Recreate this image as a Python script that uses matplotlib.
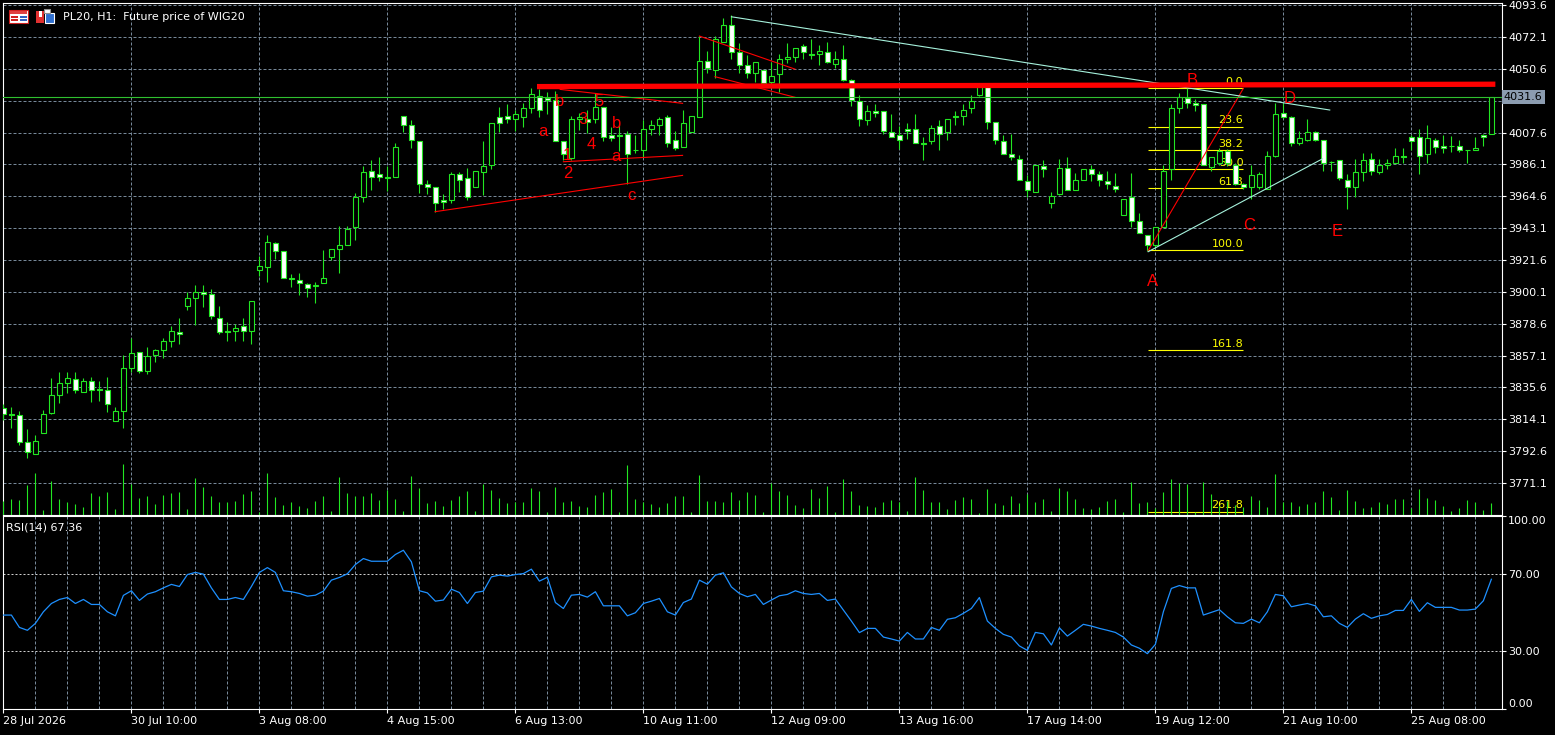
import matplotlib
matplotlib.use('Agg')
import matplotlib.pyplot as plt
import matplotlib.transforms as mtransforms
from matplotlib.patches import Rectangle

# H1 candles, PL20 (index = bar number)
opens = [3821.5, 3817.5, 3816.8, 3798.6, 3790.9, 3804.7, 3818.1, 3830.3, 3838.4, 3841.5,
         3832.3, 3839.7, 3834.3, 3834.1, 3812.7, 3819.5, 3848.5, 3859.3, 3846.5, 3857.3,
         3860.7, 3866.7, 3873.2, 3890.3, 3895.7, 3899.8, 3898.4, 3882.2, 3873.5, 3873.5,
         3876.8, 3873.5, 3914.6, 3916.6, 3932.8, 3927.4, 3909.2, 3907.9, 3905.6, 3904.0,
         3905.9, 3923.4, 3928.8, 3931.5, 3943.6, 3963.9, 3981.4, 3979.4, 3977.4, 3977.4,
         4018.5, 4012.5, 4001.7, 3972.7, 3970.6, 3961.9, 3961.9, 3979.4, 3976.7, 3970.6,
         3980.7, 3985.5, 4017.9, 4018.5, 4016.5, 4018.3, 4024.3, 4032.2, 4030.7, 4029.3,
         4001.7, 3990.2, 4016.5, 4016.5, 4016.5, 4024.6, 4005.7, 4005.7, 4006.4, 3995.8,
         3995.6, 4009.8, 4012.5, 4017.9, 4002.3, 3997.6, 4007.7, 4018.3, 4055.6, 4049.6,
         4068.5, 4079.9, 4061.7, 4052.9, 4047.5, 4049.6, 4041.5, 4046.9, 4057.0, 4058.3,
         4065.8, 4060.4, 4060.4, 4061.7, 4053.6, 4057.0, 4042.8, 4028.7, 4015.8, 4021.9,
         4021.9, 4007.7, 4005.7, 4009.8, 4009.8, 4000.3, 4001.7, 4011.8, 4007.7, 4018.3,
         4018.5, 4023.9, 4032.7, 4038.1, 4014.5, 4001.7, 3992.9, 3989.5, 3974.7, 3967.3,
         3984.8, 3959.8, 3965.9, 3983.4, 3968.6, 3975.4, 3982.8, 3979.4, 3974.7, 3971.3,
         3951.7, 3963.9, 3947.7, 3938.2, 3931.5, 3943.6, 3982.8, 4023.9, 4030.7, 4027.3,
         4026.6, 3984.5, 3986.8, 3995.1, 3985.5, 3972.7, 3970.6, 3970.6, 3969.3, 3991.5,
         4020.6, 4017.9, 4000.3, 4002.3, 4007.7, 4002.3, 3987.6, 3988.8, 3975.4, 3970.6,
         3980.7, 3989.5, 3980.7, 3985.5, 3986.8, 3991.6, 4004.4, 4004.4, 3992.9, 4002.3,
         3998.3, 3998.4, 3998.3, 3995.7, 3995.6, 4005.7, 4006.4]
highs = [3824.4, 3822.2, 3819.7, 3807.4, 3803.3, 3820.2, 3841.8, 3845.8, 3845.8, 3845.8,
         3841.8, 3842.4, 3839.7, 3842.4, 3822.2, 3857.3, 3868.7, 3859.3, 3862.7, 3861.3,
         3868.7, 3876.8, 3882.2, 3899.8, 3904.5, 3904.5, 3901.8, 3890.3, 3879.5, 3878.2,
         3882.2, 3893.7, 3924.1, 3938.2, 3933.5, 3927.4, 3912.1, 3912.6, 3905.9, 3906.5,
         3928.1, 3928.8, 3944.3, 3944.3, 3966.6, 3984.8, 3988.8, 3990.9, 3984.8, 4000.3,
         4018.5, 4015.8, 4001.7, 3975.4, 3970.6, 3965.9, 3980.7, 3980.7, 3983.4, 3981.4,
         4001.7, 4013.8, 4024.6, 4026.6, 4022.8, 4027.3, 4037.4, 4036.7, 4034.7, 4035.8,
         4001.7, 4018.7, 4020.6, 4022.8, 4034.1, 4024.6, 4011.5, 4012.5, 4008.4, 4005.7,
         4015.8, 4015.8, 4017.9, 4019.2, 4008.8, 4022.8, 4018.5, 4072.5, 4062.4, 4072.5,
         4084.7, 4086.7, 4067.8, 4059.7, 4055.0, 4049.6, 4055.4, 4060.4, 4067.8, 4064.4,
         4067.1, 4070.5, 4066.4, 4068.5, 4062.4, 4066.4, 4043.5, 4032.7, 4026.0, 4026.6,
         4021.9, 4019.9, 4011.8, 4013.8, 4019.9, 4004.4, 4012.5, 4015.8, 4016.5, 4021.9,
         4026.6, 4032.7, 4040.3, 4040.3, 4014.5, 4005.7, 4006.4, 3992.2, 3978.7, 3985.5,
         3988.8, 3967.3, 3989.5, 3990.9, 3980.1, 3982.8, 3985.5, 3981.4, 3981.4, 3980.1,
         3962.5, 3980.1, 3953.1, 3938.2, 3943.6, 3985.5, 4026.6, 4034.1, 4037.4, 4030.0,
         4026.6, 3990.9, 3997.1, 3996.5, 3986.8, 3973.5, 3985.5, 3980.7, 3994.9, 4027.3,
         4027.3, 4018.5, 4008.4, 4016.5, 4008.4, 4002.3, 3988.2, 3988.8, 3979.4, 3989.5,
         3993.6, 3993.6, 3989.5, 3989.5, 3996.9, 3996.9, 4005.7, 4009.8, 4012.5, 4003.7,
         4005.7, 4005.0, 4002.3, 3995.7, 4004.4, 4006.4, 4031.6]
lows = [3813.6, 3808.4, 3797.0, 3788.2, 3790.9, 3804.7, 3817.5, 3825.3, 3831.6, 3831.6,
        3832.3, 3825.6, 3826.2, 3819.2, 3812.7, 3808.4, 3845.8, 3845.1, 3844.5, 3852.6,
        3855.3, 3862.7, 3864.7, 3887.6, 3877.5, 3889.7, 3881.6, 3871.4, 3866.7, 3866.7,
        3866.7, 3864.7, 3910.6, 3906.5, 3922.0, 3909.2, 3903.2, 3897.8, 3896.4, 3892.4,
        3905.9, 3921.4, 3912.6, 3931.5, 3935.3, 3960.5, 3968.6, 3974.7, 3967.9, 3977.4,
        4007.7, 3996.9, 3966.6, 3965.9, 3953.8, 3955.8, 3959.8, 3967.3, 3961.9, 3970.6,
        3965.2, 3982.8, 4007.7, 4013.8, 4008.4, 4011.5, 4020.6, 4017.9, 4019.9, 4001.7,
        3989.0, 3989.0, 4009.3, 4007.5, 4013.8, 4002.1, 4001.7, 3995.1, 3972.7, 3993.6,
        3991.3, 4005.7, 4005.7, 3998.0, 3995.6, 3997.6, 4007.7, 4018.3, 4047.5, 4044.2,
        4068.5, 4057.0, 4047.5, 4044.2, 4041.9, 4039.7, 4039.7, 4035.1, 4054.3, 4055.4,
        4057.0, 4057.0, 4052.9, 4054.3, 4050.9, 4042.1, 4025.7, 4011.8, 4012.5, 4017.9,
        4006.4, 4004.4, 3996.3, 4003.0, 4000.3, 3988.8, 3999.6, 3995.6, 4002.3, 4012.5,
        4012.5, 4020.6, 4032.2, 4009.8, 3999.6, 3992.9, 3988.8, 3975.4, 3963.9, 3967.3,
        3977.4, 3956.5, 3965.2, 3968.6, 3968.6, 3975.4, 3974.7, 3971.3, 3969.3, 3967.3,
        3951.7, 3943.6, 3939.6, 3927.9, 3929.5, 3943.6, 3975.4, 4020.6, 4023.9, 4021.9,
        3985.5, 3981.4, 3985.7, 3985.0, 3972.0, 3969.3, 3962.5, 3969.3, 3969.3, 3990.9,
        4017.2, 3998.3, 3999.0, 4001.7, 4001.7, 3981.4, 3981.4, 3975.4, 3955.8, 3963.9,
        3974.7, 3978.7, 3979.4, 3982.8, 3986.8, 3986.8, 3995.6, 3979.4, 3986.8, 3993.6,
        3993.6, 3994.2, 3994.2, 3986.8, 3995.6, 3998.3, 4006.4]
closes = [3817.5, 3817.0, 3798.6, 3792.2, 3799.3, 3817.5, 3830.3, 3838.4, 3841.8, 3833.7,
          3839.7, 3833.7, 3834.0, 3824.2, 3819.5, 3848.5, 3858.6, 3846.5, 3856.6, 3860.7,
          3866.7, 3873.5, 3871.4, 3895.7, 3899.8, 3898.4, 3883.6, 3872.8, 3873.3, 3875.5,
          3873.5, 3893.7, 3917.3, 3933.5, 3927.4, 3909.2, 3909.0, 3905.9, 3902.5, 3904.2,
          3909.2, 3928.8, 3931.5, 3942.3, 3963.9, 3980.7, 3977.4, 3977.4, 3977.2, 3997.6,
          4012.5, 4002.3, 3972.7, 3970.6, 3959.8, 3960.5, 3979.4, 3975.4, 3963.9, 3981.4,
          3984.8, 4013.8, 4013.8, 4016.5, 4019.9, 4023.9, 4033.4, 4022.6, 4029.3, 4001.7,
          3992.9, 4016.5, 4017.9, 4014.5, 4024.6, 4004.4, 4003.7, 4005.5, 3992.9, 3995.6,
          4009.8, 4012.5, 4016.5, 4000.3, 3996.9, 4013.8, 4018.5, 4055.6, 4050.9, 4070.5,
          4079.9, 4061.7, 4052.9, 4047.5, 4055.0, 4040.8, 4045.5, 4057.0, 4058.3, 4064.4,
          4061.7, 4060.2, 4062.4, 4055.0, 4057.0, 4042.8, 4029.3, 4016.5, 4021.9, 4020.6,
          4008.4, 4004.4, 4002.3, 4008.4, 4000.3, 4000.1, 4010.4, 4006.4, 4016.5, 4018.1,
          4022.6, 4028.7, 4039.0, 4014.5, 4002.3, 3992.9, 3990.9, 3975.4, 3968.6, 3985.5,
          3982.8, 3964.6, 3983.4, 3968.6, 3975.4, 3982.8, 3979.4, 3975.4, 3972.7, 3969.3,
          3962.5, 3947.7, 3939.6, 3931.5, 3943.6, 3981.4, 4023.9, 4031.4, 4027.3, 4026.0,
          3985.5, 3990.9, 3995.3, 3987.0, 3972.7, 3970.6, 3978.7, 3979.4, 3991.5, 4019.9,
          4017.9, 4000.3, 4003.7, 4007.7, 4002.3, 3986.8, 3987.4, 3976.7, 3970.6, 3980.7,
          3988.8, 3981.4, 3985.5, 3986.8, 3991.5, 3991.4, 4001.7, 3991.5, 4003.7, 3997.6,
          3996.9, 3998.2, 3995.6, 3995.6, 3996.9, 4004.4, 4031.6]
volumes = [40, 46, 43, 90, 125, 15, 102, 46, 39, 33, 24, 66, 57, 69, 18, 153, 93, 49, 57, 33,
           60, 66, 69, 18, 111, 84, 57, 39, 39, 42, 63, 72, 9, 126, 54, 30, 39, 27, 21, 42,
           57, 12, 114, 66, 57, 57, 66, 45, 75, 48, 12, 117, 81, 36, 42, 27, 45, 57, 72, 12,
           93, 75, 51, 36, 39, 39, 81, 72, 9, 84, 39, 42, 27, 24, 60, 69, 78, 9, 150, 48,
           39, 33, 24, 36, 57, 57, 9, 120, 42, 42, 39, 69, 45, 69, 60, 9, 96, 72, 60, 30,
           21, 78, 51, 87, 9, 108, 72, 30, 27, 24, 39, 45, 39, 12, 114, 75, 39, 39, 18, 45,
           54, 48, 6, 78, 36, 30, 57, 36, 63, 39, 48, 12, 81, 72, 48, 21, 18, 24, 42, 48,
           9, 99, 36, 39, 21, 69, 108, 96, 93, 9, 99, 63, 27, 40, 30, 24, 57, 45, 24, 123,
           39, 39, 27, 33, 39, 72, 54, 15, 75, 42, 21, 24, 39, 33, 48, 48, 21, 78, 51, 45,
           27, 12, 21, 45, 39, 15, 36]
rsi_values = [48.8, 48.8, 42.4, 40.9, 44.5, 50.5, 54.8, 56.9, 57.9, 54.8,
              56.9, 54.3, 54.3, 50.5, 48.4, 59.0, 61.4, 56.4, 59.7, 60.9,
              62.9, 64.7, 63.6, 69.8, 70.9, 70.0, 62.9, 56.9, 56.9, 57.9,
              56.9, 63.6, 70.9, 73.4, 70.9, 61.4, 60.9, 60.0, 58.6, 59.1,
              61.2, 66.9, 68.3, 70.2, 75.0, 78.1, 76.7, 76.7, 76.7, 80.2,
              82.4, 76.4, 61.4, 60.3, 56.0, 56.6, 62.2, 60.5, 54.8, 60.5,
              61.2, 68.6, 69.5, 69.0, 69.8, 70.3, 72.6, 66.4, 68.4, 55.3,
              52.2, 59.1, 59.5, 58.1, 60.9, 53.6, 53.6, 53.6, 48.4, 50.0,
              54.8, 56.0, 57.4, 50.5, 48.8, 55.3, 57.1, 66.9, 64.8, 69.5,
              70.7, 63.4, 60.0, 58.3, 59.5, 54.3, 56.6, 58.8, 59.5, 61.4,
              60.0, 59.5, 60.0, 56.4, 57.1, 51.4, 45.7, 39.7, 41.9, 41.9,
              37.4, 36.4, 35.3, 39.8, 36.4, 36.4, 42.4, 40.9, 46.6, 47.4,
              49.7, 52.2, 57.9, 45.7, 41.9, 38.8, 37.4, 32.8, 30.5, 39.8,
              39.1, 33.3, 42.2, 37.9, 40.9, 44.0, 43.1, 41.9, 40.9, 39.8,
              37.4, 33.3, 31.6, 28.8, 33.6, 50.5, 62.6, 64.1, 62.9, 62.9,
              48.8, 50.2, 51.6, 47.9, 44.8, 44.5, 46.7, 44.8, 50.5, 59.5,
              58.8, 53.1, 54.0, 54.8, 53.6, 47.9, 48.4, 44.5, 42.4, 46.7,
              49.5, 47.1, 48.4, 49.1, 51.2, 51.2, 56.9, 50.7, 55.2, 52.8,
              52.8, 52.8, 51.4, 51.4, 51.9, 56.2, 67.36]

price_ticks = [4093.6, 4072.1, 4050.6, 4029.1, 4007.6, 3986.1, 3964.6, 3943.1,
               3921.6, 3900.1, 3878.6, 3857.1, 3835.6, 3814.1, 3792.6, 3771.1]
date_bars = [0, 16, 32, 48, 64, 80, 96, 112, 128, 144, 160, 176]
date_labels = ['28 Jul 2026', '30 Jul 10:00', '3 Aug 08:00', '4 Aug 15:00', '6 Aug 13:00',
               '10 Aug 11:00', '12 Aug 09:00', '13 Aug 16:00', '17 Aug 14:00',
               '19 Aug 12:00', '21 Aug 10:00', '25 Aug 08:00']
rsi_ticks = [0, 30, 70, 100]
last_price = 4031.6

# fibonacci retracement
fib_ratios = [0.0, 23.6, 38.2, 50.0, 61.8, 100.0, 161.8, 261.8]
fib_x = (143.1, 155.0)
fib_top, fib_bottom = 4037.4, 3928.3

# drawn objects: (bar, price) pairs
thick_red = [(66.7, 4038.6), (186.5, 4040.2)]
red_lines = [[(53.95, 3954.2), (84.9, 3978.7)],
             [(70.0, 3987.9), (84.9, 3992.2)],
             [(69.6, 4036.7), (84.9, 4027.3)],
             [(87.0, 4072.7), (98.95, 4050.4)],
             [(88.95, 4045.3), (98.95, 4031.4)],
             [(143.1, 3927.9), (155.0, 4037.4)]]
cyan_lines = [[(91.0, 4085.7), (165.8, 4022.8)],
              [(143.1, 3927.2), (164.9, 3989.9)]]
wave_text = ['A', 'B', 'C', 'D', 'E', 'a', 'b', '1', '2', '3', '4', '5', 'b', 'a', 'c']
wave_x = [143.6, 148.6, 155.7, 160.8, 166.7, 67.5, 69.5, 70.5, 70.5, 72.5, 73.5, 74.5, 76.6, 76.6, 78.5]
wave_y = [3907.4, 4043.0, 3945.2, 4030.9, 3941.1, 4008.1, 4028.4, 3992.4, 3980.1, 4016.5,
          3999.2, 4028.4, 4013.8, 3991.7, 3965.4]

GREEN = '#22e622'
GRID = '#778899'
W, H = 1555, 735

plt.rcParams['font.family'] = ['DejaVu Sans']
fig = plt.figure(figsize=(W / 100, H / 100), dpi=100, facecolor='black')

ax = fig.add_axes([3 / W, (H - 514.5) / H, 1499 / W, 511.5 / H], facecolor='black')
ax_rsi = fig.add_axes([3 / W, (H - 709.2) / H, 1499 / W, 192.9 / H], facecolor='black', sharex=ax)

n = len(closes)
bars = list(range(n))

# candles
ax.vlines(bars, lows, highs, color=GREEN, lw=0.8, zorder=3)
for i in bars:
    o, c = opens[i], closes[i]
    ax.add_patch(Rectangle((i - 0.3, min(o, c)), 0.6, max(abs(c - o), 0.5),
                           facecolor='white' if c < o else 'black',
                           edgecolor=GREEN, lw=0.8, zorder=4))

# volumes on a hidden twin scale
vax = ax.twinx()
vax.vlines(bars, 0, volumes, color=GREEN, lw=0.8)
vax.set_ylim(0, 1534.5)
vax.set_yticks([])
for s in vax.spines.values():
    s.set_visible(False)

# fibonacci
fib_prices = [fib_top - r / 100 * (fib_top - fib_bottom) for r in fib_ratios]
ax.hlines(fib_prices, fib_x[0], fib_x[1], color='#ffff00', lw=0.8, zorder=2)
for r, p in zip(fib_ratios, fib_prices):
    ax.annotate(f'{r:.1f}', (fib_x[1], p), xytext=(0, 1), textcoords='offset points',
                ha='right', va='bottom', color='#ffff00', fontsize=8, zorder=2)

# objects
ax.plot(*zip(*thick_red), color='#ff0000', lw=3.8, solid_capstyle='butt', zorder=6)
for seg in red_lines:
    ax.plot(*zip(*seg), color='#ff0000', lw=0.8, zorder=5)
for seg in cyan_lines:
    ax.plot(*zip(*seg), color='#a6f2dc', lw=0.8, zorder=5)
for t, x, y in zip(wave_text, wave_x, wave_y):
    ax.text(x, y, t, color='#ff0000', fontsize=12, ha='center', va='center',
            family=['Liberation Sans', 'DejaVu Sans'], zorder=6)

# bid line and price box (the box hides the 4029.1 label, as in the terminal)
ax.axhline(last_price, color='#2fc02f', lw=0.8, zorder=5)
blend = mtransforms.blended_transform_factory(ax.transAxes, ax.transData)
ax.text(1.0012, last_price, f'{last_price:.1f}', transform=blend, ha='left', va='center',
        color='black', fontsize=8, clip_on=False, zorder=20,
        bbox=dict(boxstyle='square,pad=0.2', fc='#8c9cb0', ec='none'))

ax.set_xlim(-0.05, 187.33)
ax.set_ylim(3749.9, 4095.0)
ax.yaxis.tick_right()
ax.set_yticks(price_ticks)
ax.set_yticklabels(['' if abs(v - last_price) < 5 else f'{v:.1f}' for v in price_ticks])
ax.tick_params(axis='y', colors='white', length=3, width=0.8, labelsize=8, pad=1.5)
ax.set_xticks(range(0, 188, 4))
ax.tick_params(axis='x', length=0, labelbottom=False)
ax.grid(True, color=GRID, lw=0.72, linestyle=(0, (3, 2)))
ax.set_axisbelow(True)
for s in ax.spines.values():
    s.set_color('white')
    s.set_linewidth(0.8)

# RSI panel
ax_rsi.plot(bars, rsi_values, color='#1e90ff', lw=0.9, zorder=3)
for lv in (30, 70):
    ax_rsi.axhline(lv, color='#d0d0d0', lw=0.72, linestyle=(0, (2, 2)), zorder=2)
ax_rsi.set_ylim(0, 100)
ax_rsi.yaxis.tick_right()
ax_rsi.set_yticks(rsi_ticks)
ax_rsi.set_yticklabels([f'{v:.2f}' for v in rsi_ticks])
ax_rsi.tick_params(axis='y', colors='white', length=3, width=0.8, labelsize=8, pad=1.5)
ylabels = ax_rsi.get_yticklabels()
ylabels[0].set_va('bottom')
ylabels[-1].set_va('top')
ax_rsi.set_xticks(date_bars)
ax_rsi.set_xticklabels(date_labels)
for lbl in ax_rsi.get_xticklabels():
    lbl.set_ha('left')
ax_rsi.set_xticks(range(0, 188, 4), minor=True)
ax_rsi.tick_params(axis='x', which='major', colors='white', length=3, width=0.8,
                   labelsize=8, pad=2)
ax_rsi.tick_params(axis='x', which='minor', length=0)
ax_rsi.grid(True, axis='x', which='both', color=GRID, lw=0.72, linestyle=(0, (3, 2)))
ax_rsi.set_axisbelow(True)
ax_rsi.set_xlim(-0.05, 187.33)
for s in ax_rsi.spines.values():
    s.set_color('white')
    s.set_linewidth(0.8)
ax_rsi.text(0.002, 0.944, f'RSI(14) {rsi_values[-1]:.2f}', transform=ax_rsi.transAxes,
            color='white', fontsize=8, ha='left', va='center')


# header icons and title
def px(x, y):
    return x / W, 1 - y / H


def box(x0, y0, x1, y1, fc, ec='none'):
    fx, fy = px(x0, y1)
    fig.add_artist(Rectangle((fx, fy), (x1 - x0) / W, (y1 - y0) / H, transform=fig.transFigure,
                             facecolor=fc, edgecolor=ec, lw=0.8))


box(9, 10, 28, 23, 'white', '#d02020')
box(10, 11, 27, 14, '#e04040')
box(11, 16, 18, 17.5, '#d02020')
box(20, 16, 27, 17.5, '#3060c0')
box(11, 19.5, 18, 21, '#d02020')
box(20, 19.5, 27, 21, '#3060c0')
box(36, 11, 44, 23, '#e03030')
box(39, 11, 42, 17, 'white')
box(45, 13, 54, 23, '#3070d0', 'white')
box(44, 9, 50, 13, 'white', '#909090')
tx, ty = px(63, 17)
fig.text(tx, ty, 'PL20, H1:  Future price of WIG20', color='white', fontsize=8, va='center')

fig.savefig('out.png', dpi=100, facecolor='black')
